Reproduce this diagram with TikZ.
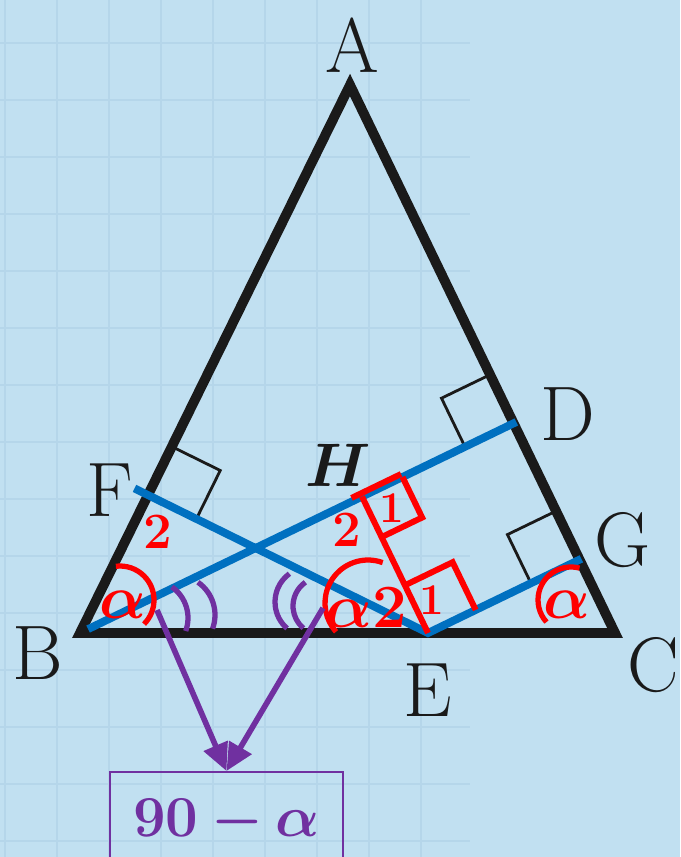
\RequirePackage{fix-cm}
\documentclass[tikz,border=0pt]{standalone}
\usepackage{amsmath,bm}
\usetikzlibrary{arrows.meta,calc}
\definecolor{sky}{HTML}{C1E0F1}
\definecolor{gridln}{HTML}{B5D6EA}
\definecolor{lineblue}{HTML}{0070C0}
\definecolor{markred}{HTML}{FF0000}
\definecolor{plum}{HTML}{7030A0}
\definecolor{ink}{HTML}{1A1A1A}
\tikzset{
  side/.style={line width=5.6pt,ink,line join=miter},
  altitude/.style={line width=4.5pt,lineblue},
  redline/.style={line width=3.4pt,markred},
  rightmark/.style={line width=1.6pt,ink},
  redmark/.style={line width=3pt,markred},
  anglemark/.style={line width=3pt,plum},
  ptlabel/.style={font=\fontsize{44}{44}\selectfont,text=ink,inner sep=0pt},
  redlabel/.style={font=\fontsize{29}{29}\selectfont\bfseries,text=markred,inner sep=0pt},
  alphalabel/.style={font=\fontsize{35}{35}\selectfont\bfseries,text=markred,inner sep=0pt},
  pointer/.style={-{Triangle[length=0.55cm,width=0.5cm]},line width=3.2pt,plum},
  answer/.style={draw=plum,line width=1.1pt,minimum width=4.66cm,minimum height=2cm,font=\fontsize{33}{33}\selectfont,text=plum}
}

\begin{document}
\begin{tikzpicture}[x=0.02cm,y=-0.02cm]
    \useasboundingbox (0,0) rectangle (680,857);
    \fill[sky] (0,0) rectangle (680,857);
    \clip (0,0) rectangle (680,857);
    % faint squared paper
    \foreach \gx in {5,57,...,470} \draw[gridln,line width=0.7pt] (\gx,0) -- (\gx,857);
    \foreach \gy in {43,100,...,857} \draw[gridln,line width=0.7pt] (0,\gy) -- (470,\gy);

    \coordinate (A) at (350,85);
    \coordinate (B) at (80,633);
    \coordinate (C) at (615,633);
    \coordinate (E) at (428,633);
    \coordinate (D) at ($(A)!(B)!(C)$);
    \coordinate (F) at ($(B)!(E)!(A)$);
    \coordinate (G) at ($(A)!(E)!(C)$);
    \coordinate (Hf) at ($(B)!(E)!(D)$);

    % right angle marks
    \foreach \p/\u/\v in {F/A/E,D/A/B,G/A/E} {
      \coordinate (\p u) at ($(\p)!1.08cm!(\u)$);
      \coordinate (\p v) at ($(\p)!1.08cm!(\v)$);
      \draw[rightmark] (\p u) -- ($(\p u)+(\p v)-(\p)$) -- (\p v);
    }

    \draw[side] (A) -- (B) -- (C) -- cycle;
    \draw[altitude] ($(B)!0.18cm!(D)$) -- ($(D)!-0.06cm!(B)$);
    \draw[altitude] ($(F)!-0.3cm!(E)$) -- (E) -- ($(G)!-0.04cm!(E)$);

    % red marks
    \draw[redline] (E) -- (Hf);
    \draw[redline] ($(Hf)!-0.2cm!(D)+(-1.5,-3)$) -- ($(Hf)!0.9cm!(D)+(-1.5,-3)$);
    \coordinate (hu) at ($(Hf)!0.9cm!(E)$);
    \coordinate (hv) at ($(Hf)!0.9cm!(D)$);
    \draw[redline] (hu) -- ($(hu)+(hv)-(Hf)$) -- (hv);
    \coordinate (eu) at ($(E)!1.06cm!(Hf)$);
    \coordinate (ev) at ($(E)!1.06cm!(G)$);
    \draw[redline] (eu) -- ($(eu)+(ev)-(E)$) -- (ev);
    \draw[redmark] ([shift={(-45:0.68cm)}]120,600) arc[start angle=-45,end angle=97,radius=0.68cm];
    \draw[redmark] ([shift={(75:0.66cm)}]571,600) arc[start angle=75,end angle=222,radius=0.66cm];
    \draw[redmark] ([shift={(70:0.86cm)}]368,603) arc[start angle=70,end angle=222,radius=0.86cm];

    % purple marks
    \draw[anglemark] ([shift={(-20:0.76cm)}]150,618) arc[start angle=-20,end angle=55,radius=0.76cm];
    \draw[anglemark] ([shift={(-20:0.8cm)}]175,615) arc[start angle=-20,end angle=55,radius=0.8cm];
    \draw[anglemark] ([shift={(126:0.7cm)}]310,602) arc[start angle=126,end angle=229,radius=0.7cm];
    \draw[anglemark] ([shift={(125:0.58cm)}]322,606) arc[start angle=125,end angle=230,radius=0.58cm];

    \node[answer] (res) at (226.5,822) {$\bm{90-\alpha}$};
    \coordinate (lefttail) at (157,610);
    \coordinate (righttail) at (323,608);
    \draw[pointer] (lefttail) -- (res.north);
    \draw[pointer] (righttail) -- (res.north);

    % labels
    \node[ptlabel] (la) at (352,45) {A};
    \node[ptlabel] (lb) at (38,653) {B};
    \node[ptlabel] (lc) at (653,665) {C};
    \node[ptlabel] (ld) at (568,414) {D};
    \node[ptlabel] (le) at (428,690) {E};
    \node[ptlabel] (lf) at (110,490) {F};
    \node[ptlabel] (lg) at (623,540) {G};
    \node[ptlabel,font=\fontsize{35}{35}\selectfont] (lh) at (338,465) {$\bm{H}$};
    \node[redlabel] (two1) at (158,532) {2};
    \node[redlabel] (two2) at (347,530) {2};
    \node[redlabel,font=\fontsize{25}{25}\selectfont\bfseries] (one1) at (392,508) {1};
    \node[redlabel,font=\fontsize{25}{25}\selectfont\bfseries] (one2) at (432,600) {1};
    \node[alphalabel] (ae) at (366,607) {$\bm{\alpha}$2};
    \node[alphalabel] (ab) at (123,605) {$\bm{\alpha}$};
    \node[alphalabel] (ac) at (567,605) {$\bm{\alpha}$};
\end{tikzpicture}
\end{document}
